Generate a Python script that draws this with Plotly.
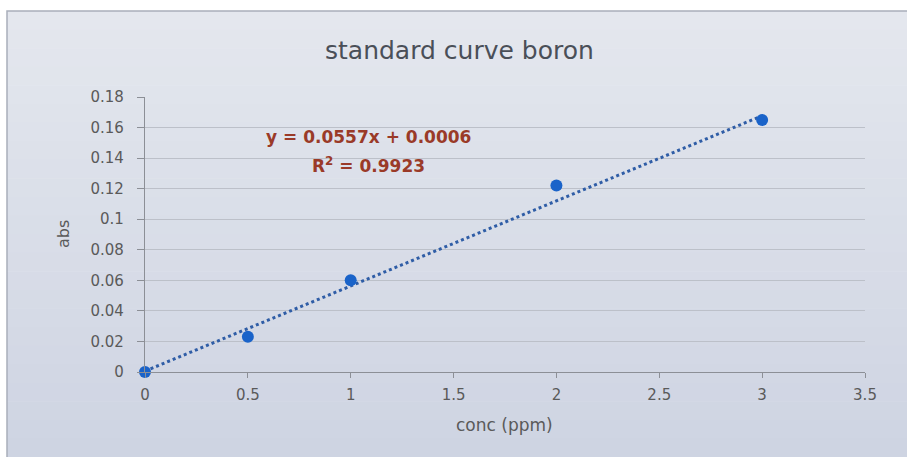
import plotly.graph_objects as go

# Boron standard curve readings
conc_ppm = [0, 0.5, 1, 2, 3]
absorbance = [0.0, 0.023, 0.060, 0.122, 0.165]

# Linear trendline reported on the chart
slope = 0.0557
intercept = 0.0006
r_squared = 0.9923

x_ticks = [0, 0.5, 1, 1.5, 2, 2.5, 3, 3.5]
x_tick_text = ["0", "0.5", "1", "1.5", "2", "2.5", "3", "3.5"]
y_ticks = [0, 0.02, 0.04, 0.06, 0.08, 0.1, 0.12, 0.14, 0.16, 0.18]
y_tick_text = ["0", "0.02", "0.04", "0.06", "0.08", "0.1", "0.12", "0.14", "0.16", "0.18"]

W, H = 907, 457
L, R, T, B = 145, 42, 97, 85
PW, PH = W - L - R, H - T - B


def px(xp):
    return (xp - L) / PW


def py(yp):
    return (H - B - yp) / PH


FONT = "'DejaVu Sans', sans-serif"
TXT = "#5a5a5a"

trend_x = [min(conc_ppm), max(conc_ppm)]
trend_y = [slope * v + intercept for v in trend_x]

fig = go.Figure()
fig.add_trace(go.Scatter(
    x=trend_x, y=trend_y, mode="lines",
    line=dict(color="#2f5da6", width=3, dash="dot"),
    hoverinfo="skip", showlegend=False, cliponaxis=False,
))
fig.add_trace(go.Scatter(
    x=conc_ppm, y=absorbance, mode="markers",
    marker=dict(color="#1a63c9", size=12, line=dict(width=0)),
    showlegend=False, cliponaxis=False,
))

# Chart-area background with a soft vertical gradient and a thin frame
shapes = []
top_c = (228, 231, 238)
bot_c = (206, 212, 226)
n = 24
y_top, y_bot = 11, H
for i in range(n):
    f = i / (n - 1)
    c = tuple(round(top_c[k] + (bot_c[k] - top_c[k]) * f) for k in range(3))
    y0 = y_top + (y_bot - y_top) * i / n
    y1 = y_top + (y_bot - y_top) * (i + 1) / n
    shapes.append(dict(
        type="rect", xref="paper", yref="paper", layer="below",
        x0=px(7), x1=px(W), y0=py(y1 + 0.5), y1=py(y0),
        fillcolor="rgb(%d,%d,%d)" % c, line=dict(width=0),
    ))
shapes.append(dict(
    type="rect", xref="paper", yref="paper", layer="below",
    x0=px(7), x1=px(W + 5), y0=py(H + 5), y1=py(11),
    fillcolor="rgba(0,0,0,0)", line=dict(color="#a9afbb", width=1.5),
))

centered = dict(showarrow=False, xanchor="center", yanchor="middle")
annotations = [
    dict(text="standard curve boron", xref="paper", yref="paper",
         x=px(459), y=py(50), font=dict(family=FONT, size=25, color="#4a4f58"),
         **centered),
    dict(text="abs", xref="paper", yref="paper", x=px(63), y=py(234),
         textangle=-90, font=dict(family=FONT, size=16, color=TXT), **centered),
    dict(text="conc (ppm)", xref="paper", yref="paper", x=px(504), y=py(425),
         font=dict(family=FONT, size=17, color=TXT), **centered),
    dict(text="<b>y = %.4fx + %.4f</b>" % (slope, intercept), x=1.085, y=0.1535,
         font=dict(family=FONT, size=17, color="#9a3a28"), **centered),
    dict(text="<b>R<sup>2</sup> = %.4f</b>" % r_squared, x=1.085, y=0.1357,
         font=dict(family=FONT, size=17, color="#9a3a28"), **centered),
]

fig.update_layout(
    width=W, height=H,
    margin=dict(l=L, r=R, t=T, b=B, autoexpand=False),
    paper_bgcolor="white",
    plot_bgcolor="rgba(0,0,0,0)",
    shapes=shapes,
    annotations=annotations,
    xaxis=dict(
        range=[0, 3.5], tickvals=x_ticks, ticktext=x_tick_text,
        showgrid=False, zeroline=False, showline=True,
        linecolor="#8c8f96", linewidth=1.2,
        ticks="outside", ticklen=5, tickcolor="#8c8f96",
        ticklabelstandoff=4,
        tickfont=dict(family=FONT, size=15, color=TXT),
    ),
    yaxis=dict(
        range=[0, 0.18], tickvals=y_ticks, ticktext=y_tick_text,
        showgrid=True, gridcolor="#bcc0c9", gridwidth=1,
        zeroline=False, showline=True,
        linecolor="#8c8f96", linewidth=1.2,
        ticks="outside", ticklen=7, tickcolor="#8c8f96",
        ticklabelstandoff=10,
        tickfont=dict(family=FONT, size=15, color=TXT),
    ),
)

fig.write_html("out.html")
